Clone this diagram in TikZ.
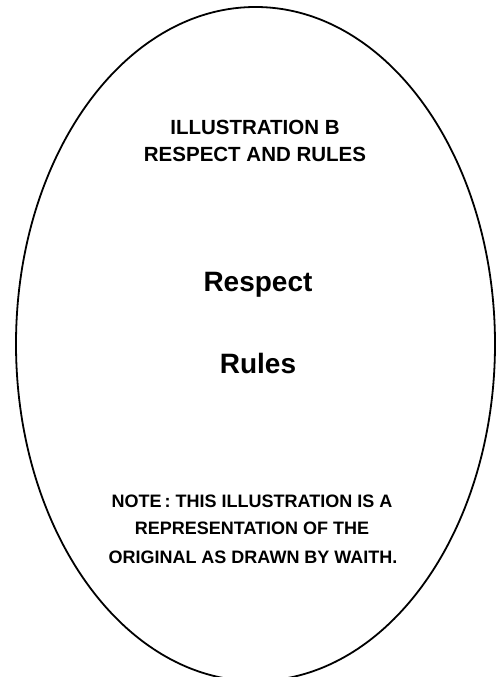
\documentclass[tikz,border=0pt]{standalone}
\usepackage{fontspec}
\setmainfont{Liberation Sans}
\begin{document}
\begin{tikzpicture}[x=1pt,y=-1pt,
  ttl/.style={font=\bfseries\fontsize{20.5}{25}\selectfont, anchor=base, inner sep=0pt},
  big/.style={font=\bfseries\fontsize{28}{32}\selectfont, anchor=base, inner sep=0pt},
  note/.style={font=\bfseries\fontsize{18}{27}\selectfont, anchor=base, inner sep=0pt}]
\useasboundingbox (0,0) rectangle (498,677);
\begin{scope}
\clip (0,0) rectangle (498,677);
\draw[line width=1.8pt] (255.5,344) ellipse [x radius=239.5, y radius=337];
\end{scope}
\node[ttl] (t1) at (255,134) {ILLUSTRATION B};
\node[ttl] (t2) at (255,161) {RESPECT AND RULES};
\node[big] (resp) at (258,291) {Respect};
\node[big] (rules) at (258,373) {Rules};
\node[note] (n1) at (252,507) {NOTE\,: THIS ILLUSTRATION IS A};
\node[note] (n2) at (252,534) {REPRESENTATION OF THE};
\node[note] (n3) at (253,563) {ORIGINAL AS DRAWN BY WAITH.};
\end{tikzpicture}
\end{document}
